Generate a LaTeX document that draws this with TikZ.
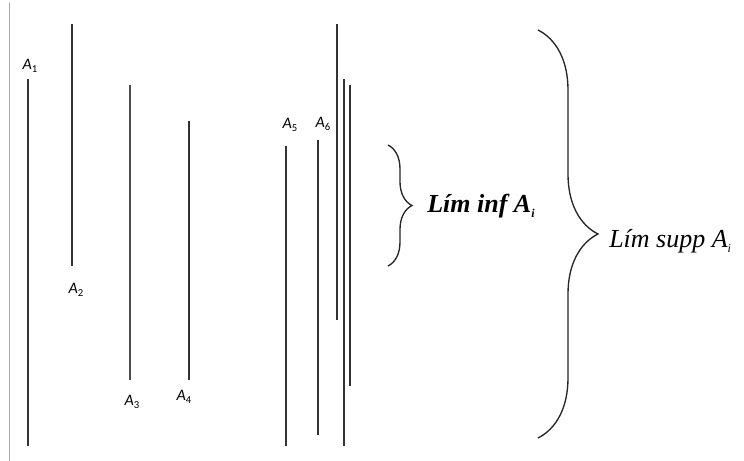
\documentclass[tikz,border=0pt]{standalone}
\usepackage{fontspec}
\usepackage{tikz}
\usetikzlibrary{decorations.pathreplacing,positioning,calc}
\newfontfamily\setlblfont{Carlito}
\newfontfamily\limfont{Liberation Serif}
\newcommand{\Aset}[1]{{\setlblfont\itshape A\raisebox{-0.45ex}{\footnotesize\upshape #1}}}

\begin{document}
\begin{tikzpicture}[
    x=0.75pt, y=-0.75pt,
    setbar/.style={line width=1.5pt, color=black!80},
    thinbar/.style={line width=1pt, color=black!70},
    setlbl/.style={inner sep=0pt, font=\large},
    limlbl/.style={inner sep=0pt, font=\limfont\fontsize{19.5}{22}\selectfont\itshape, anchor=west},
    bracebig/.style={decorate, decoration={brace, amplitude=#1}, line width=1pt, color=black!85}
]
\useasboundingbox (0,0) rectangle (744,461);
% page edge
\draw[gray!70, line width=0.6pt] (9,3) -- (9,461);
% the sets A_n
\draw[setbar] (28,79) -- (28,446);
\draw[setbar] (72,24) -- (72,266);
\draw[thinbar] (130,85) -- (130,380);
\draw[setbar] (189,121) -- (189,380);
\draw[setbar] (286,146) -- (286,446);
\draw[setbar] (318,140) -- (318,435);
\draw[setbar] (337,24) -- (337,320);
\draw[setbar] (344,79) -- (344,446);
\draw[setbar] (350,85) -- (350,386);
% labels
\node[setlbl] (L1) at (30,66) {\Aset{1}};
\node[setlbl] (L2) at (76,290) {\Aset{2}};
\node[setlbl] (L3) at (132,402) {\Aset{3}};
\node[setlbl] (L4) at (184,397) {\Aset{4}};
\node[setlbl] (L5) at (290,125) {\Aset{5}};
\node[setlbl] (L6) at (323,124) {\Aset{6}};
% braces
\coordinate (infT) at (388,145);
\coordinate (infB) at (388,266);
\coordinate (supT) at (538,30);
\coordinate (supB) at (538,438);
\draw[bracebig=18pt] (infT) -- (infB);
\draw[bracebig=45pt] (supT) -- (supB);
\node[limlbl] (LimInf) at (427,206) {\bfseries Lím inf A\raisebox{-0.45ex}{\small i}};
\node[limlbl] (LimSup) at (609,241) {Lím supp A\raisebox{-0.45ex}{\small i}};
\end{tikzpicture}
\end{document}
